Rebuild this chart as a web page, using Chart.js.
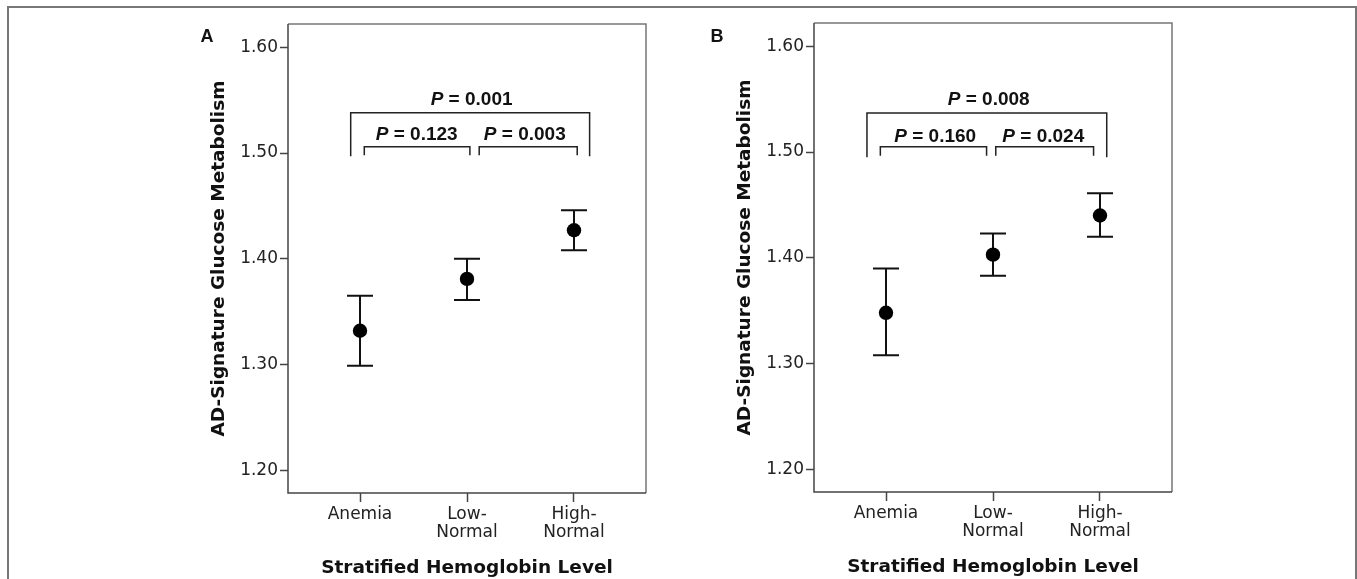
<!DOCTYPE html>
<html>
<head>
<meta charset="utf-8">
<script src="https://cdn.jsdelivr.net/npm/chart.js@4/dist/chart.umd.min.js"></script>
<style>
  html, body { margin: 0; padding: 0; background: #fff; overflow: hidden; }
  body { width: 1357px; height: 579px; position: relative; }
  #frame { position: absolute; left: 7px; top: 6px; width: 1350px; height: 640px;
           box-sizing: border-box; border: 2px solid #777; }
  canvas { position: absolute; }
  #chartA { left: 180px; top: 0px; }
  #chartB { left: 706px; top: -1px; }
</style>
</head>
<body>
<div id="frame"></div>
<canvas id="chartA" width="490" height="579"></canvas>
<canvas id="chartB" width="490" height="579"></canvas>
<script>
// categories and tick labels
const categories = [['Anemia'], ['Low-', 'Normal'], ['High-', 'Normal']];
const yTicks = [1.20, 1.30, 1.40, 1.50, 1.60];

// panel A: mean and 95% CI
const meanA = [1.332, 1.381, 1.427];
const lowA  = [1.299, 1.361, 1.408];
const highA = [1.365, 1.400, 1.446];
const pA = ['0.001', '0.123', '0.003'];   // outer, left pair, right pair

// panel B
const meanB = [1.348, 1.403, 1.440];
const lowB  = [1.308, 1.383, 1.420];
const highB = [1.390, 1.423, 1.461];
const pB = ['0.008', '0.160', '0.024'];

const tickFont = { family: '"DejaVu Sans"', size: 17 };
const titleFont = { family: '"DejaVu Sans"', size: 18.5, weight: 'bold', lineHeight: 1.2 };

// box round the plot area
const boxPlugin = {
  id: 'box',
  afterDraw(chart) {
    const { ctx, chartArea: a } = chart;
    ctx.save();
    ctx.lineWidth = 1.5;
    ctx.strokeStyle = '#777';
    ctx.beginPath();
    ctx.moveTo(a.left, a.top); ctx.lineTo(a.right, a.top); ctx.lineTo(a.right, a.bottom);
    ctx.stroke();
    ctx.strokeStyle = '#444';
    ctx.beginPath();
    ctx.moveTo(a.left, a.top); ctx.lineTo(a.left, a.bottom); ctx.lineTo(a.right, a.bottom);
    ctx.stroke();
    ctx.restore();
  }
};

// error bars from low/high arrays
const errorBars = {
  id: 'errorBars',
  beforeDatasetsDraw(chart, args, opts) {
    const { ctx, scales: { x, y } } = chart;
    ctx.save();
    ctx.strokeStyle = '#111';
    ctx.lineWidth = 2;
    opts.low.forEach((lo, i) => {
      const px = x.getPixelForValue(i);
      const y1 = y.getPixelForValue(lo);
      const y2 = y.getPixelForValue(opts.high[i]);
      ctx.beginPath();
      ctx.moveTo(px, y1); ctx.lineTo(px, y2);
      ctx.moveTo(px - 13, y1); ctx.lineTo(px + 13, y1);
      ctx.moveTo(px - 13, y2); ctx.lineTo(px + 13, y2);
      ctx.stroke();
    });
    ctx.restore();
  }
};

// significance brackets and p labels
function drawP(ctx, text, cx, cy) {
  const fp = 'italic bold 19px "Liberation Sans"';
  const fr = 'bold 19px "Liberation Sans"';
  ctx.font = fp; const w1 = ctx.measureText('P').width;
  const rest = ' = ' + text;
  ctx.font = fr; const w2 = ctx.measureText(rest).width;
  let x0 = cx - (w1 + w2) / 2;
  ctx.textAlign = 'left';
  ctx.textBaseline = 'middle';
  ctx.font = fp; ctx.fillText('P', x0, cy);
  ctx.font = fr; ctx.fillText(rest, x0 + w1, cy);
}

const brackets = {
  id: 'brackets',
  afterDatasetsDraw(chart, args, o) {
    const { ctx, scales: { x, y } } = chart;
    ctx.save();
    ctx.strokeStyle = '#222';
    ctx.lineWidth = 1.5;
    o.lines.forEach(b => {
      const x1 = x.getPixelForValue(b[0]), x2 = x.getPixelForValue(b[1]);
      const yt = y.getPixelForValue(b[2]), ye = y.getPixelForValue(b[3]);
      ctx.beginPath();
      ctx.moveTo(x1, ye); ctx.lineTo(x1, yt); ctx.lineTo(x2, yt); ctx.lineTo(x2, ye);
      ctx.stroke();
    });
    ctx.fillStyle = '#111';
    o.labels.forEach((l, i) => {
      drawP(ctx, o.p[i], x.getPixelForValue(l[0]), y.getPixelForValue(l[1]));
    });
    ctx.font = 'bold 18px "Liberation Sans"';
    ctx.textAlign = 'center';
    ctx.textBaseline = 'middle';
    ctx.fillText(o.panel, o.panelX, o.panelY);
    ctx.restore();
  }
};

function makeChart(id, mean, low, high, p, geo) {
  return new Chart(document.getElementById(id), {
    type: 'scatter',
    data: {
      datasets: [{
        data: mean.map((v, i) => ({ x: i, y: v })),
        backgroundColor: '#000',
        borderWidth: 0,
        pointRadius: 7.2,
        pointHoverRadius: 7.2
      }]
    },
    options: {
      responsive: false,
      animation: false,
      events: [],
      devicePixelRatio: 1,
      layout: { padding: { top: 24, right: 24, bottom: 0, left: 0 } },
      plugins: {
        legend: { display: false },
        tooltip: { enabled: false },
        errorBars: { low, high },
        brackets: Object.assign({ p }, geo)
      },
      scales: {
        x: {
          type: 'linear',
          min: -0.673, max: 2.673,
          afterBuildTicks: s => { s.ticks = categories.map((c, i) => ({ value: i })); },
          afterFit: s => { s.height = 86; },
          border: { display: false },
          grid: { drawOnChartArea: false, tickLength: 9, tickColor: '#444', tickWidth: 1.5 },
          ticks: {
            font: Object.assign({ lineHeight: 1.04 }, tickFont), color: '#222', padding: 4,
            maxRotation: 0, callback: v => categories[v]
          },
          title: { display: true, text: 'Stratified Hemoglobin Level', font: titleFont,
                   color: '#111', padding: { top: 3, bottom: 0 } }
        },
        y: {
          min: 1.1786, max: 1.622,
          afterBuildTicks: s => { s.ticks = yTicks.map(v => ({ value: v })); },
          afterFit: s => { s.width = 108; },
          border: { display: false },
          grid: { drawOnChartArea: false, tickLength: 8, tickColor: '#444', tickWidth: 1.5 },
          ticks: { font: tickFont, color: '#222', padding: 2, callback: v => v.toFixed(2) },
          title: { display: true, text: 'AD-Signature Glucose Metabolism', font: titleFont,
                   color: '#111', padding: { top: 28, bottom: 0 } }
        }
      }
    },
    plugins: [boxPlugin, errorBars, brackets]
  });
}

makeChart('chartA', meanA, lowA, highA, pA, {
  panel: 'A', panelX: 27, panelY: 37,
  lines: [[-0.087, 2.146, 1.538, 1.497], [0.04, 1.027, 1.506, 1.498], [1.114, 2.03, 1.506, 1.498]],
  labels: [[1.043, 1.550], [0.53, 1.517], [1.54, 1.517]]
});
makeChart('chartB', meanB, lowB, highB, pB, {
  panel: 'B', panelX: 11, panelY: 38,
  lines: [[-0.178, 2.063, 1.537, 1.495], [-0.053, 0.94, 1.505, 1.4966], [1.026, 1.94, 1.505, 1.4966]],
  labels: [[0.96, 1.549], [0.46, 1.514], [1.47, 1.514]]
});
</script>
</body>
</html>
